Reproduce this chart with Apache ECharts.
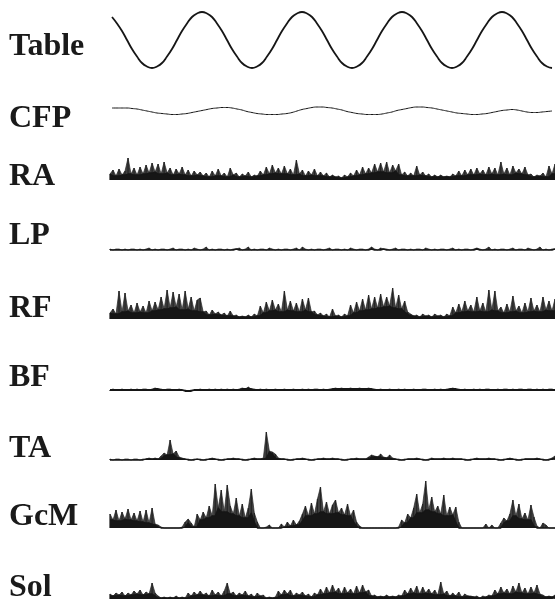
<!DOCTYPE html>
<html>
<head>
<meta charset="utf-8">
<title>Table / EMG traces</title>
<script src="https://cdn.jsdelivr.net/npm/echarts@6/dist/echarts.min.js"></script>
<style>
  html, body { margin: 0; padding: 0; background: #fff; }
  #chart { width: 555px; height: 603px; }
</style>
</head>
<body>
<div id="chart"></div>
<script>
// labels on the left, top to bottom
var traceNames = ['Table', 'CFP', 'RA', 'LP', 'RF', 'BF', 'TA', 'GcM', 'Sol'];

// table position, one sample every 5 px (height above lowest point)
var tableValues = [
  51, 44.5, 37, 28, 19, 11.5, 5, 1.5,
  0, 1.5, 5, 11.5, 19, 28, 37, 44.5, 51, 54.5, 56, 54.5, 51, 44.5, 37, 28, 19, 11.5, 5, 1.5,
  0, 1.5, 5, 11.5, 19, 28, 37, 44.5, 51, 54.5, 56, 54.5, 51, 44.5, 37, 28, 19, 11.5, 5, 1.5,
  0, 1.5, 5, 11.5, 19, 28, 37, 44.5, 51, 54.5, 56, 54.5, 51, 44.5, 37, 28, 19, 11.5, 5, 1.5,
  0, 1.5, 5, 11.5, 19, 28, 37, 44.5, 51, 54.5, 56, 54.5, 51, 44.5, 37, 28, 19, 11.5, 5, 1.5,
  0
];

// CFP, one sample every 5 px
var cfpValues = [
  7, 7, 7, 7, 6.5, 6, 5, 4, 3, 2,
  1.5, 1, 0.5, 0.5, 1, 1.5, 2.5, 3.5, 4.5, 5.5,
  6.5, 7, 7.5, 7.5, 7, 6, 5, 3.5, 2.5, 1.5,
  1, 0.5, 0.5, 0.5, 1, 1.5, 2.5, 4, 5.5, 6.5,
  7.5, 8, 8, 7.5, 7, 6, 5, 3.5, 2.5, 1.5,
  1, 0.5, 0.5, 0.5, 1, 2, 3, 4.5, 5.5, 6.5,
  7.5, 8, 8, 7.5, 7, 6, 5, 4, 3, 2,
  1.5, 1, 0.5, 0.5, 1, 1.5, 2.5, 3.5, 4.5, 5,
  5.5, 5, 4, 3, 2.5, 2.5, 3, 3.5, 4
];

// EMG traces, one sample every 3 px (height above baseline)
var raValues = [
  6, 10, 4, 11, 5, 9, 22, 6, 12, 5,
  13, 6, 15, 7, 17, 8, 16, 6, 18, 7,
  12, 5, 11, 6, 13, 5, 10, 4, 9, 5,
  8, 4, 7, 3, 9, 4, 11, 4, 7, 3,
  12, 5, 7, 3, 6, 4, 8, 3, 5, 4,
  9, 5, 13, 6, 15, 7, 12, 6, 14, 6,
  11, 5, 20, 6, 10, 4, 9, 5, 11, 4,
  8, 4, 7, 3, 5, 3, 4, 2, 5, 3,
  7, 4, 10, 5, 13, 6, 12, 7, 16, 8,
  17, 8, 18, 7, 15, 9, 16, 5, 8, 4,
  7, 4, 14, 5, 8, 4, 6, 3, 5, 3,
  5, 3, 4, 3, 6, 4, 9, 4, 10, 5,
  11, 5, 12, 6, 10, 5, 13, 6, 12, 5,
  18, 6, 12, 5, 14, 7, 11, 6, 13, 5,
  6, 3, 5, 4, 7, 3, 14, 6, 16
];

var lpValues = [
  1, 0, 1, 1, 0, 1, 0, 1, 1, 0,
  1, 0, 1, 2, 0, 1, 0, 1, 1, 0,
  1, 2, 0, 1, 1, 0, 1, 0, 2, 1,
  0, 1, 3, 0, 1, 0, 1, 1, 0, 1,
  0, 1, 1, 2, 0, 1, 3, 0, 1, 0,
  1, 1, 0, 2, 1, 0, 1, 0, 1, 1,
  0, 1, 2, 0, 3, 1, 0, 1, 0, 1,
  1, 0, 1, 2, 0, 1, 1, 0, 1, 0,
  2, 1, 0, 1, 1, 0, 1, 3, 1, 0,
  2, 1, 1, 0, 1, 2, 0, 1, 1, 0,
  1, 0, 1, 1, 0, 2, 1, 0, 1, 0,
  1, 1, 0, 1, 2, 0, 1, 0, 1, 1,
  0, 1, 2, 1, 0, 1, 3, 0, 1, 0,
  1, 1, 0, 1, 2, 0, 1, 1, 0, 2,
  1, 0, 1, 3, 0, 1, 0, 1, 1
];

var rfValues = [
  6, 10, 5, 28, 7, 26, 8, 14, 6, 16,
  7, 13, 6, 18, 8, 17, 9, 22, 10, 29,
  11, 27, 12, 25, 9, 28, 10, 22, 8, 19,
  21, 7, 8, 4, 9, 5, 7, 4, 6, 3,
  8, 3, 4, 2, 3, 2, 4, 2, 5, 3,
  13, 6, 17, 8, 19, 9, 15, 7, 28, 9,
  18, 8, 16, 7, 20, 9, 21, 7, 8, 4,
  6, 3, 5, 2, 10, 3, 4, 2, 5, 3,
  14, 6, 17, 8, 20, 9, 24, 10, 22, 11,
  25, 12, 22, 13, 31, 11, 24, 10, 18, 7,
  5, 3, 4, 2, 5, 3, 4, 2, 5, 3,
  4, 2, 5, 3, 12, 6, 15, 7, 18, 8,
  14, 7, 22, 8, 16, 7, 29, 9, 28, 8,
  12, 6, 15, 7, 23, 8, 13, 6, 16, 7,
  21, 8, 14, 7, 22, 9, 18, 8, 20
];

var bfValues = [
  1, 2, 1, 1, 2, 1, 1, 2, 1, 2,
  1, 2, 2, 1, 2, 3, 2, 2, 1, 2,
  2, 1, 1, 2, 1, 1, 0, 1, 1, 1,
  2, 1, 1, 2, 1, 2, 1, 2, 1, 2,
  1, 2, 1, 2, 3, 2, 4, 2, 2, 1,
  2, 1, 2, 1, 1, 2, 1, 1, 2, 1,
  1, 2, 1, 1, 2, 1, 2, 1, 2, 2,
  1, 2, 1, 2, 2, 3, 2, 3, 2, 2,
  3, 2, 2, 3, 2, 2, 3, 2, 2, 1,
  2, 1, 1, 2, 1, 1, 2, 1, 2, 1,
  1, 2, 1, 1, 2, 2, 1, 1, 2, 1,
  2, 1, 2, 2, 3, 2, 2, 1, 2, 1,
  1, 2, 1, 2, 1, 2, 2, 1, 1, 2,
  1, 2, 2, 1, 2, 1, 2, 2, 1, 2,
  2, 1, 2, 1, 2, 1, 2, 2, 1
];

var taValues = [
  1, 0, 1, 1, 0, 1, 1, 0, 1, 1,
  0, 1, 1, 2, 1, 2, 1, 4, 7, 5,
  20, 6, 9, 3, 2, 1, 1, 0, 1, 1,
  1, 0, 1, 1, 2, 1, 1, 0, 1, 1,
  1, 2, 1, 1, 1, 0, 1, 1, 2, 1,
  1, 2, 28, 9, 8, 6, 2, 1, 1, 1,
  0, 1, 1, 1, 2, 1, 1, 0, 1, 1,
  1, 2, 1, 1, 2, 1, 1, 1, 0, 1,
  1, 1, 2, 1, 1, 1, 3, 5, 4, 3,
  6, 3, 2, 5, 2, 1, 1, 0, 1, 1,
  1, 1, 2, 1, 1, 0, 1, 2, 1, 1,
  1, 2, 1, 1, 2, 1, 1, 1, 1, 0,
  1, 1, 2, 1, 1, 1, 2, 1, 1, 1,
  0, 1, 1, 2, 1, 1, 0, 1, 1, 1,
  1, 1, 2, 1, 1, 0, 1, 2, 4
];

var gcmValues = [
  14, 8, 18, 7, 16, 9, 19, 8, 15, 7,
  17, 6, 18, 5, 20, 4, 3, 1, 0, 0,
  0, 0, 0, 0, 1, 6, 9, 5, 1, 14,
  8, 16, 10, 22, 12, 44, 20, 38, 16, 43,
  22, 14, 30, 12, 24, 10, 20, 39, 15, 6,
  0, 0, 1, 3, 0, 0, 0, 4, 1, 6,
  2, 8, 3, 7, 14, 22, 12, 25, 14, 29,
  41, 16, 26, 14, 23, 28, 15, 20, 13, 24,
  12, 18, 6, 2, 0, 0, 0, 0, 0, 0,
  0, 0, 0, 0, 0, 0, 1, 8, 5, 14,
  10, 20, 34, 15, 24, 47, 18, 31, 16, 22,
  14, 33, 12, 21, 13, 21, 6, 0, 0, 0,
  0, 0, 0, 0, 0, 4, 0, 3, 0, 0,
  5, 10, 7, 14, 28, 12, 24, 9, 15, 8,
  23, 11, 2, 0, 5, 3, 0, 0, 0
];

var solValues = [
  5, 3, 6, 4, 7, 3, 6, 4, 8, 5,
  9, 4, 7, 5, 16, 6, 3, 1, 2, 1,
  2, 1, 3, 1, 2, 1, 6, 3, 7, 4,
  8, 4, 6, 3, 9, 4, 7, 3, 8, 16,
  5, 7, 3, 6, 4, 8, 3, 5, 2, 6,
  3, 4, 1, 2, 1, 2, 8, 4, 9, 5,
  9, 3, 6, 4, 7, 3, 5, 2, 6, 4,
  10, 5, 12, 6, 14, 7, 11, 5, 12, 6,
  10, 5, 13, 6, 14, 7, 9, 3, 4, 2,
  3, 2, 4, 2, 3, 2, 4, 3, 9, 5,
  11, 6, 13, 5, 12, 6, 10, 5, 9, 4,
  17, 5, 8, 3, 6, 3, 7, 2, 5, 3,
  3, 2, 3, 1, 3, 2, 4, 3, 9, 5,
  12, 6, 10, 5, 13, 7, 16, 6, 11, 5,
  12, 6, 14, 5, 4, 2, 3, 2, 4
];

var traceValues = [tableValues, cfpValues, raValues, lpValues, rfValues,
                   bfValues, taValues, gcmValues, solValues];

// page layout: label baseline, trace baseline and top (px)
var layout = [
  { labelBase: 57,  base: 68,  top: 12,  left: 112, right: 3, kind: 'wave', width: 1.8 },
  { labelBase: 129, base: 115, top: 107, left: 112, right: 3, kind: 'wave', width: 1 },
  { labelBase: 187, base: 180, top: 158, left: 110, right: 0, kind: 'emg',  width: 1.3 },
  { labelBase: 246, base: 250, top: 247, left: 110, right: 0, kind: 'emg',  width: 1.6 },
  { labelBase: 319, base: 319, top: 288, left: 110, right: 0, kind: 'emg',  width: 1.3 },
  { labelBase: 388, base: 391, top: 387, left: 110, right: 0, kind: 'emg',  width: 1.8 },
  { labelBase: 459, base: 460, top: 432, left: 110, right: 0, kind: 'emg',  width: 1.3 },
  { labelBase: 527, base: 528, top: 481, left: 110, right: 0, kind: 'emg',  width: 1.3 },
  { labelBase: 598, base: 599, top: 582, left: 110, right: 0, kind: 'emg',  width: 1.3 }
];

var ink = '#161616';
var chart = echarts.init(document.getElementById('chart'));

var grids = [], xAxes = [], yAxes = [], series = [], labels = [];

traceNames.forEach(function (name, i) {
  var l = layout[i];
  var vals = traceValues[i];
  var points = vals.map(function (v, k) { return [k, v]; });

  grids.push({ left: l.left, right: l.right, top: l.top, height: l.base - l.top });
  xAxes.push({ type: 'value', gridIndex: i, min: 0, max: vals.length - 1, show: false });
  yAxes.push({ type: 'value', gridIndex: i, min: 0, max: l.base - l.top, show: false });

  labels.push({
    type: 'text',
    left: 9,
    top: l.labelBase - 26,
    style: {
      text: name,
      font: 'bold 32px "Liberation Serif", "Times New Roman", serif',
      fill: '#1a1a1a'
    }
  });

  if (l.kind === 'wave') {
    series.push({
      name: name, type: 'line', xAxisIndex: i, yAxisIndex: i,
      data: points, showSymbol: false, smooth: true, clip: false,
      lineStyle: { color: ink, width: l.width }
    });
    return;
  }

  // hatched outline of the raw signal
  series.push({
    name: name, type: 'line', xAxisIndex: i, yAxisIndex: i,
    data: points, showSymbol: false, clip: false,
    lineStyle: { color: '#262626', width: 0.7 },
    areaStyle: { color: '#262626', opacity: 0.88 }
  });
  // dense dark body: lowest of neighbouring samples
  var body = vals.map(function (v, k) {
    var a = k > 0 ? vals[k - 1] : v;
    var b = k < vals.length - 1 ? vals[k + 1] : v;
    return [k, Math.min(a, v, b)];
  });
  series.push({
    name: name + ' body', type: 'line', xAxisIndex: i, yAxisIndex: i,
    data: body, showSymbol: false, clip: false,
    lineStyle: { color: ink, width: l.width },
    areaStyle: { color: ink, opacity: 1 }
  });
  // needle spikes
  series.push({
    name: name + ' spikes', type: 'bar', xAxisIndex: i, yAxisIndex: i,
    data: points, barWidth: 1.2,
    itemStyle: { color: ink }
  });
});

chart.setOption({
  backgroundColor: '#ffffff',
  animation: false,
  grid: grids,
  xAxis: xAxes,
  yAxis: yAxes,
  series: series,
  graphic: labels
});

window.addEventListener('resize', function () {
  chart.resize();
});
</script>
</body>
</html>
